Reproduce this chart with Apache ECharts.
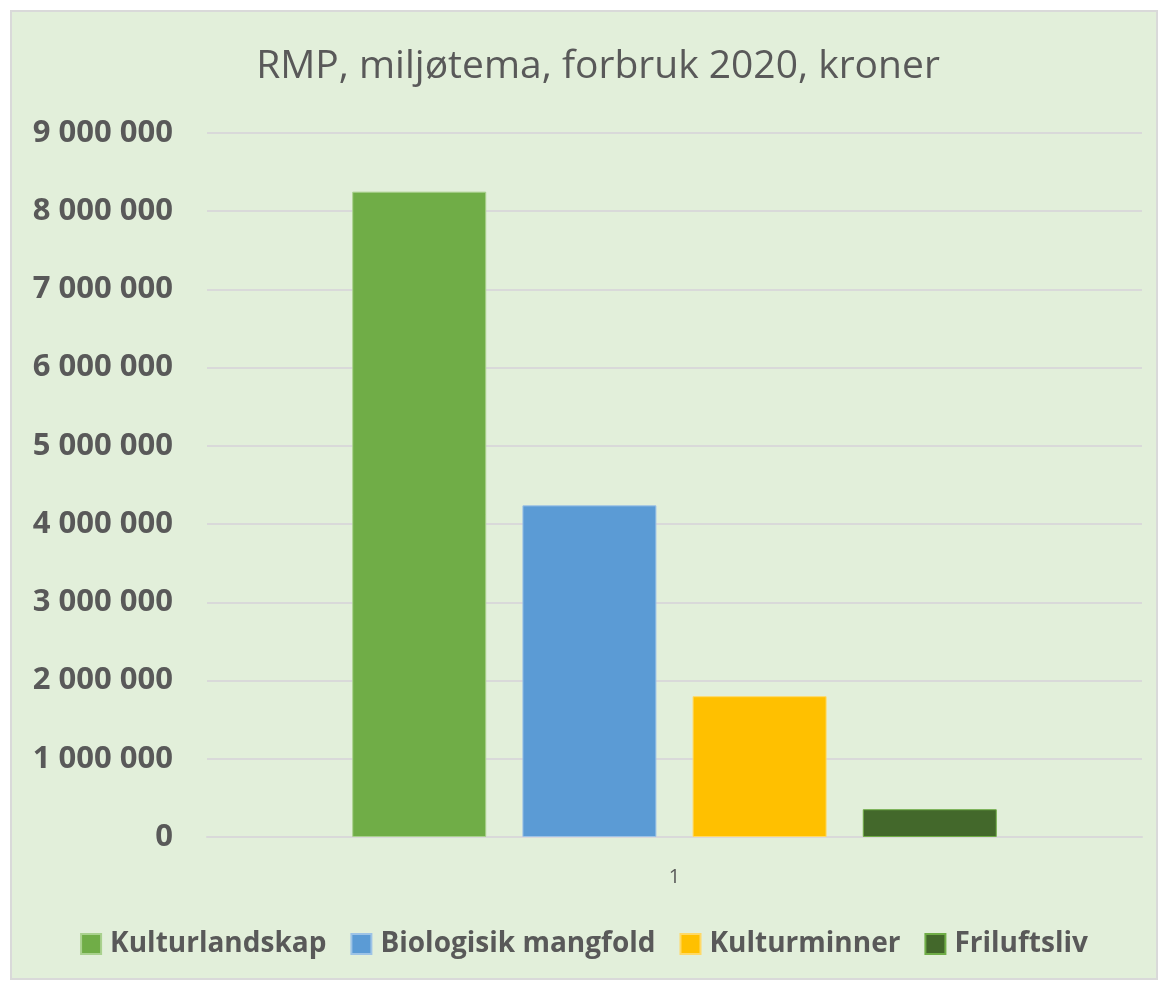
<!DOCTYPE html>
<html>
<head>
<meta charset="utf-8">
<title>RMP, miljøtema, forbruk 2020</title>
<script src="https://cdn.jsdelivr.net/npm/echarts@6/dist/echarts.min.js"></script>
<style>
  html, body { margin: 0; padding: 0; background: #ffffff; }
  #chart {
    position: absolute;
    left: 10px;
    top: 10px;
    width: 1144px;
    height: 966px;
    border: 2px solid #d9d9d9;
    background: #e2efda;
  }
</style>
</head>
<body>
<div id="chart"></div>
<script>
const categories = ['1'];
const seriesNames = ['Kulturlandskap', 'Biologisik mangfold', 'Kulturminner', 'Friluftsliv'];
const seriesValues = [8250000, 4240000, 1800000, 355000];
const seriesColors = ['#70ad47', '#5b9bd5', '#ffc000', '#43682b'];
const borderColors = ['#a9d18e', '#9dc3e6', '#ffd966', '#70ad47'];

const textGray = '#595959';
const fontFamily = '"Open Sans", "Noto Sans", sans-serif';

// 9000000 -> "9 000 000"
function fmt(v) {
  return String(v).replace(/\B(?=(\d{3})+(?!\d))/g, ' ');
}

const chart = echarts.init(document.getElementById('chart'));

chart.setOption({
  animation: false,
  textStyle: { fontFamily: fontFamily },
  title: {
    text: 'RMP, miljøtema, forbruk 2020, kroner',
    left: 581,
    top: 30,
    textAlign: 'center',
    textStyle: {
      color: textGray,
      fontSize: 39,
      fontWeight: 'normal',
      fontFamily: fontFamily,
    },
  },
  legend: {
    bottom: 15,
    left: 'center',
    itemWidth: 20,
    itemHeight: 20,
    itemGap: 24,
    icon: 'rect',
    textStyle: {
      color: textGray,
      fontSize: 28,
      fontWeight: 'bold',
      padding: [0, 0, 0, 4],
    },
    data: seriesNames,
  },
  grid: {
    left: 195,
    right: 14,
    top: 121,
    bottom: 141,
  },
  xAxis: {
    type: 'category',
    data: categories,
    axisLine: { show: true, lineStyle: { color: '#d9d9d9', width: 2 } },
    axisTick: { show: false },
    axisLabel: { color: textGray, fontSize: 20, margin: 30 },
  },
  yAxis: {
    type: 'value',
    min: 0,
    max: 9000000,
    interval: 1000000,
    axisLine: { show: false },
    axisTick: { show: false },
    splitLine: { lineStyle: { color: '#d9d9d9', width: 2 } },
    axisLabel: {
      color: textGray,
      fontSize: 31,
      fontWeight: 'bold',
      margin: 34,
      formatter: fmt,
    },
  },
  series: seriesNames.map((name, i) => ({
    name: name,
    type: 'bar',
    data: [seriesValues[i]],
    barWidth: 134,
    barGap: '27%',
    itemStyle: {
      color: seriesColors[i],
      borderColor: borderColors[i],
      borderWidth: 1,
    },
  })),
});
</script>
</body>
</html>
